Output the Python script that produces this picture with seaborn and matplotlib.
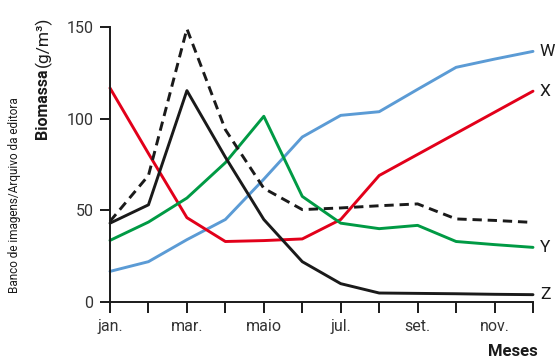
import numpy as np
import pandas as pd
import seaborn as sns
import matplotlib.pyplot as plt

# Months and biomass (g/m³) for each population
meses = ["jan.", "fev.", "mar.", "abr.", "maio", "jun.", "jul.", "ago.", "set.", "out.", "nov.", "dez."]
tick_labels = ["jan.", "", "mar.", "", "maio", "", "jul.", "", "set.", "", "nov.", ""]
w_vals = [16.7, 22, 34, 45, 67, 90, 101.8, 103.8, 116, 128, 132.5, 136.7]
x_vals = [116.7, 81, 46, 33, 33.5, 34.4, 45, 69, 80.5, 92, 103.5, 115]
y_vals = [33.6, 43.6, 56.7, 76, 101.3, 57.6, 43, 40, 41.8, 33, 31.3, 29.8]
z_vals = [43, 53, 115.3, 79, 45, 22, 10, 4.9, 4.7, 4.5, 4.2, 4]
total_vals = [44, 69, 149, 94, 62, 50.4, 51.3, 52.5, 53.5, 45.3, 44.5, 43.4]

series = {"W": w_vals, "X": x_vals, "Y": y_vals, "Z": z_vals, "T": total_vals}
colors = {"W": "#5b9bd5", "X": "#e2001a", "Y": "#009a44", "Z": "#1a1a1a", "T": "#1a1a1a"}

df = pd.concat(
    [pd.DataFrame({"mes": np.arange(len(meses)), "biomassa": v, "serie": k}) for k, v in series.items()],
    ignore_index=True,
)

sns.set_style("white")
plt.rcParams["font.family"] = ["Roboto", "DejaVu Sans"]

fig = plt.figure(figsize=(5.58, 3.59), dpi=100)
ax = fig.add_axes([110 / 558, 1 - 302 / 359, (533 - 110) / 558, (302 - 27) / 359])

sns.lineplot(data=df, x="mes", y="biomassa", hue="serie", style="serie",
             palette=colors, dashes={"W": "", "X": "", "Y": "", "Z": "", "T": (3.2, 2)},
             linewidth=2.1, legend=False, ax=ax)

ax.set_xlim(0, 11)
ax.set_ylim(0, 150)
ax.set_xticks(np.arange(len(meses)))
ax.set_xticklabels(tick_labels)
ax.set_yticks([0, 50, 100, 150])
ax.set_xlabel("")
ax.set_ylabel("")
for s in ["top", "right"]:
    ax.spines[s].set_visible(False)
for s in ["left", "bottom"]:
    ax.spines[s].set_color("#1a1a1a")
    ax.spines[s].set_linewidth(1.4)
ax.tick_params(axis="both", bottom=True, left=True, colors="#1a1a1a", labelcolor="#333333",
               direction="out", width=1.4, labelsize=11.5)
ax.tick_params(axis="x", length=8, pad=4)
ax.tick_params(axis="y", length=7, pad=5)
for line in ax.lines:
    line.set_clip_on(False)

# Series names at the right end of each line
for name, v in [("W", w_vals), ("X", x_vals), ("Y", y_vals), ("Z", z_vals)]:
    ax.annotate(name, xy=(11, v[-1]), xytext=(5, 0), textcoords="offset points",
                ha="left", va="center", fontsize=12.5, color="#1a1a1a")

# Axis titles
fig.text(43 / 558, 1 - 104 / 359, "Biomassa", rotation=90, ha="center", va="center",
         fontsize=11.5, fontweight="bold", color="#1a1a1a")
fig.text(43 / 558, 1 - 42 / 359, "(g/m³)", rotation=90, ha="center", va="center",
         fontsize=12.5, color="#1a1a1a")
fig.text(538 / 558, 1 - 351 / 359, "Meses", ha="right", va="center",
         fontsize=12, fontweight="bold", color="#1a1a1a")
fig.text(15 / 558, 1 - 195 / 359, "Banco de imagens/Arquivo da editora", rotation=90,
         ha="center", va="center", fontsize=8.5, color="#1a1a1a")

fig.savefig("out.png", dpi=100)
